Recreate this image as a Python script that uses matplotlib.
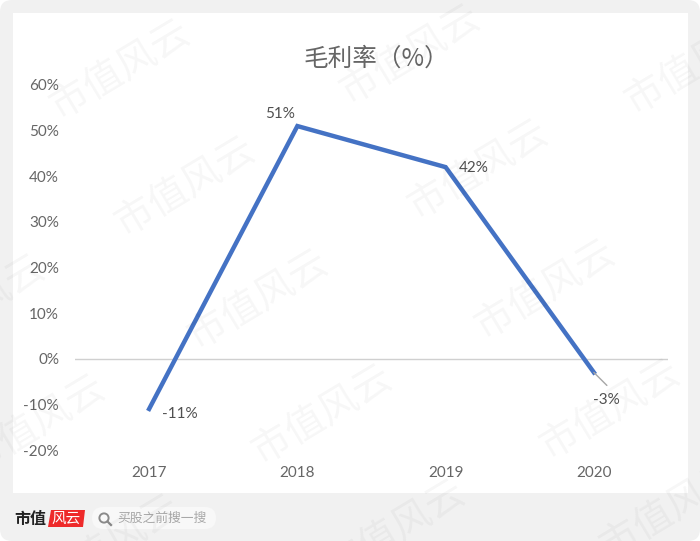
import matplotlib
matplotlib.use('Agg')
import matplotlib.pyplot as plt
from matplotlib.patches import FancyBboxPatch, Rectangle, Circle, Polygon

plt.rcParams['font.family'] = ['Lato', 'Noto Sans CJK SC', 'DejaVu Sans']

years = ['2017', '2018', '2019', '2020']
margin = [-11, 51, 42, -3]
labels = ['-11%', '51%', '42%', '-3%']
label_offsets = [(31, -5), (-17, 12), (28, -1), (12, -28)]  # px from the point
y_ticks = [-20, -10, 0, 10, 20, 30, 40, 50, 60]
marks = [(120, 70), (410, 55), (695, 65), (185, 187), (478, 170), (258, 300),
         (545, 290), (-25, 305), (322, 415), (610, 410), (35, 425), (110, 545),
         (395, 530), (670, 510)]

GREY = '#666666'
W, H = 700, 541

fig = plt.figure(figsize=(7, 5.41), dpi=100, facecolor='white')

# background in pixel coordinates
bg = fig.add_axes([0, 0, 1, 1], zorder=0)
bg.set_xlim(0, W)
bg.set_ylim(H, 0)
bg.axis('off')
bg.add_patch(FancyBboxPatch((12, 12), W - 24, H - 24, boxstyle='round,pad=12,rounding_size=12',
                            fc='#f1f1f1', ec='none'))
bg.add_patch(Rectangle((13, 13), 675, 480, fc='white', ec='none'))

# chart
ax = fig.add_axes([75 / W, 1 - 450 / H, 593 / W, 365 / H], zorder=1)
ax.patch.set_alpha(0)
x = range(len(years))
ax.plot(x, margin, color='#4472C4', lw=3.2, solid_joinstyle='miter', zorder=3)
ax.axhline(0, color='#d0d0d0', lw=1, zorder=1)
ax.set_xlim(-0.5, 3.5)
ax.set_ylim(-20, 60)
ax.set_xticks(list(x), years)
ax.set_yticks(y_ticks, [f'{v}%' for v in y_ticks])
ax.tick_params(length=0, colors=GREY, labelsize=11)
ax.tick_params(axis='x', pad=11.7)
ax.tick_params(axis='y', pad=11.5)
for s in ax.spines.values():
    s.set_visible(False)

for i in x:
    dx, dy = label_offsets[i]
    ax.annotate(labels[i], (i, margin[i]), xytext=(dx * 0.72, dy * 0.72),
                textcoords='offset points', ha='center', va='center',
                fontsize=11, color='#505050')
# leader line for the last label
ax.annotate('', (3, margin[3]), xytext=(13 * 0.72, -13 * 0.72), textcoords='offset points',
            arrowprops=dict(arrowstyle='-', color='#a6a6a6', lw=1, shrinkA=0, shrinkB=0))

fig.text(376.5 / W, 1 - 58.5 / H, '毛利率（%）', fontsize=17.7, color=GREY, ha='center', va='center',
         family=['Noto Sans CJK SC', 'DejaVu Sans'])

# footer logo and search box
bg.text(14, 519, '市值', fontsize=11.5, fontweight='bold', color='#222222', va='center',
        family=['Noto Sans CJK SC'])
bg.add_patch(Polygon([(51, 510), (85, 510), (83, 527), (48, 527)], fc='#ee2a2a', ec='none'))
bg.text(66.5, 518.5, '风云', fontsize=10.5, color='white', style='italic', ha='center', va='center',
        family=['Noto Sans CJK SC'])
bg.add_patch(FancyBboxPatch((92, 507), 124, 22, boxstyle='round,pad=0,rounding_size=11',
                            fc='#f8f8f8', ec='none'))
bg.add_patch(Circle((104, 518), 4.6, fc='none', ec='#8a8a8a', lw=1.4))
bg.plot([107.5, 111], [521.5, 525], color='#8a8a8a', lw=1.6)
bg.text(117, 518.5, '买股之前搜一搜', fontsize=9.2, color='#a8a8a8', va='center',
        family=['Noto Sans CJK SC'])

# watermark on top of everything
top = fig.add_axes([0, 0, 1, 1], zorder=5)
top.set_xlim(0, W)
top.set_ylim(H, 0)
top.axis('off')
for mx, my in marks:
    top.text(mx, my, '市值风云', fontsize=28, color='black', alpha=0.035, rotation=31,
             ha='center', va='center', fontweight='light', family=['Noto Sans CJK SC'],
             rotation_mode='anchor', clip_on=True)

fig.savefig('out.png', dpi=100)
